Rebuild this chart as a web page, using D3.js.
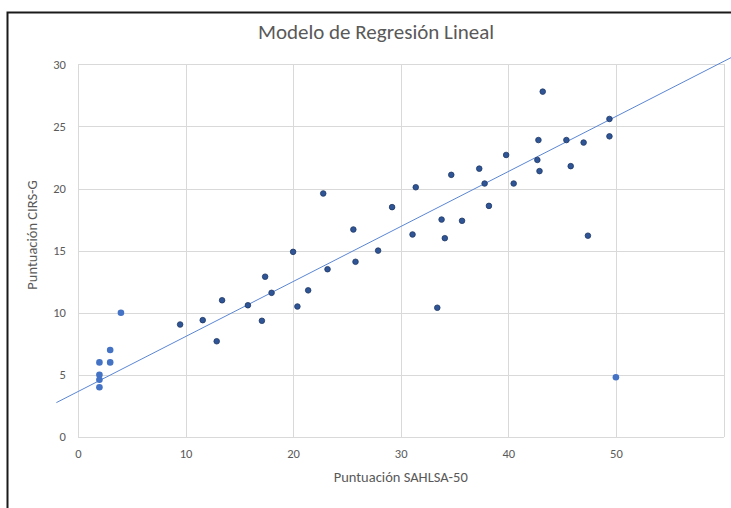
<!DOCTYPE html>
<html>
<head>
<meta charset="utf-8">
<script src="https://cdn.jsdelivr.net/npm/d3@7"></script>
<style>
html,body{margin:0;padding:0;background:#fff;overflow:hidden;}
svg{display:block;}
text{font-family:Carlito,Calibri,Lato,"Open Sans",sans-serif;fill:#595959;}
</style>
</head>
<body>
<svg id="chart" width="731" height="508"></svg>
<script>
const title = "Modelo de Regresión Lineal";
const xTitle = "Puntuación SAHLSA-50";
const yTitle = "Puntuación CIRS-G";
const xTicks = [0, 10, 20, 30, 40, 50];
const yTicks = [0, 5, 10, 15, 20, 25, 30];

// lighter blue points
const lightX = [2, 2, 2, 2, 3, 3, 4, 50];
const lightY = [6, 5, 4.6, 4, 7, 6, 10, 4.8];

// darker blue points
const darkX = [9.5, 11.6, 12.9, 13.4, 15.8, 17.1, 17.4, 18.0, 20.0, 20.4, 21.4, 22.8, 23.2, 25.6, 25.8, 27.9,
  29.2, 31.1, 31.4, 33.4, 33.8, 34.1, 34.7, 35.7, 37.3, 37.8, 38.2, 39.8, 40.5, 42.7, 42.8, 42.9, 43.2,
  45.4, 45.8, 47.0, 47.4, 49.4, 49.4];
const darkY = [9.05, 9.4, 7.7, 11.0, 10.6, 9.35, 12.9, 11.6, 14.9, 10.5, 11.8, 19.6, 13.5, 16.7, 14.1, 15.0,
  18.5, 16.3, 20.1, 10.4, 17.5, 16.0, 21.1, 17.4, 21.6, 20.4, 18.6, 22.7, 20.4, 22.3, 23.9, 21.4, 27.8,
  23.9, 21.8, 23.7, 16.2, 25.6, 24.2];

// trendline end points
const trendX = [-2, 61];
const trendY = [2.76, 30.67];

const svg = d3.select("#chart");
const x = d3.scaleLinear().domain([0, 60]).range([77.9, 723.5]);
const y = d3.scaleLinear().domain([0, 30]).range([436.9, 64.3]);

// frame
svg.append("rect").attr("x", 7.5).attr("y", 12.5).attr("width", 900).attr("height", 700)
  .attr("fill", "none").attr("stroke", "#1a1a1a").attr("stroke-width", 2);

// gridlines
const grid = svg.append("g").attr("stroke", "#d9d9d9").attr("stroke-width", 1).attr("shape-rendering", "crispEdges");
grid.selectAll(".h").data(yTicks).join("line")
  .attr("x1", x(0)).attr("x2", x(60)).attr("y1", d => Math.round(y(d)) + 0.5).attr("y2", d => Math.round(y(d)) + 0.5);
grid.selectAll(".v").data(xTicks.concat([60])).join("line")
  .attr("y1", y(0)).attr("y2", y(30)).attr("x1", d => Math.round(x(d)) + 0.5).attr("x2", d => Math.round(x(d)) + 0.5);

// axes (labels only)
const xAxis = d3.axisBottom(x).tickValues(xTicks).tickSize(0).tickPadding(12);
const gx = svg.append("g").attr("transform", `translate(0,${y(0)})`).call(xAxis);
gx.select(".domain").remove();
gx.selectAll("text").attr("font-size", 12.5).style("fill", "#595959").attr("font-family", null);

const yAxis = d3.axisLeft(y).tickValues(yTicks).tickSize(0).tickPadding(12);
const gy = svg.append("g").attr("transform", `translate(${x(0)},0)`).call(yAxis);
gy.select(".domain").remove();
gy.selectAll("text").attr("font-size", 12.5).style("fill", "#595959").attr("font-family", null);

// trendline
svg.append("line")
  .attr("x1", x(trendX[0])).attr("y1", y(trendY[0]))
  .attr("x2", x(trendX[1])).attr("y2", y(trendY[1]))
  .attr("stroke", "#5b86d3").attr("stroke-width", 1);

// points
const dark = darkX.map((v, i) => [v, darkY[i]]);
const light = lightX.map((v, i) => [v, lightY[i]]);
svg.append("g").selectAll("circle").data(dark).join("circle")
  .attr("cx", d => x(d[0])).attr("cy", d => y(d[1])).attr("r", 2.8)
  .attr("fill", "#2F5597").attr("stroke", "#203864").attr("stroke-width", 0.8);
svg.append("g").selectAll("circle").data(light).join("circle")
  .attr("cx", d => x(d[0])).attr("cy", d => y(d[1])).attr("r", 3.3)
  .attr("fill", "#4472C4");

// titles
svg.append("text").attr("x", 376).attr("y", 39).attr("text-anchor", "middle")
  .attr("font-size", 21).text(title);
svg.append("text").attr("x", 400.7).attr("y", 482).attr("text-anchor", "middle")
  .attr("font-size", 14.5).text(xTitle);
svg.append("text").attr("transform", "translate(37,235) rotate(-90)").attr("text-anchor", "middle")
  .attr("font-size", 14.5).text(yTitle);
</script>
</body>
</html>
